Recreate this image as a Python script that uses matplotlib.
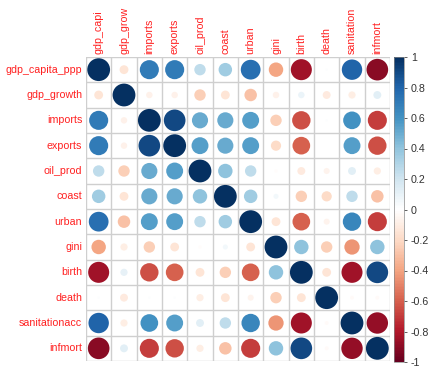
import numpy as np
import matplotlib
matplotlib.use("Agg")
import matplotlib.pyplot as plt
from matplotlib.colors import LinearSegmentedColormap, Normalize
from matplotlib.patches import Circle
from matplotlib.cm import ScalarMappable

plt.rcParams['font.family'] = ['Liberation Sans', 'DejaVu Sans']

labels = ['gdp_capita_ppp', 'gdp_growth', 'imports', 'exports', 'oil_prod', 'coast',
          'urban', 'gini', 'birth', 'death', 'sanitationacc', 'infmort']
# the column labels run off the top of the picture and show cut short
col_labels = ['gdp_capi', 'gdp_grow', 'imports', 'exports', 'oil_prod', 'coast',
              'urban', 'gini', 'birth', 'death', 'sanitation', 'infmort']

# correlation matrix (row by row)
corr = [
    [1.00, -0.15, 0.70, 0.70, 0.25, 0.35, 0.75, -0.40, -0.85, 0.01, 0.80, -0.90],
    [-0.15, 1.00, -0.08, -0.08, -0.25, -0.15, -0.30, -0.08, 0.08, -0.12, -0.10, 0.12],
    [0.70, -0.08, 1.00, 0.90, 0.50, 0.50, 0.55, -0.25, -0.65, 0.01, 0.60, -0.70],
    [0.70, -0.08, 0.90, 1.00, 0.55, 0.50, 0.55, -0.20, -0.60, 0.00, 0.55, -0.65],
    [0.25, -0.25, 0.50, 0.55, 1.00, 0.40, 0.25, -0.02, -0.12, -0.07, 0.12, -0.10],
    [0.35, -0.15, 0.50, 0.50, 0.40, 1.00, 0.35, 0.05, -0.25, -0.20, 0.25, -0.30],
    [0.75, -0.30, 0.55, 0.55, 0.25, 0.35, 1.00, -0.15, -0.60, -0.07, 0.65, -0.70],
    [-0.40, -0.10, -0.25, -0.15, -0.02, 0.05, -0.15, 1.00, 0.40, -0.25, -0.45, 0.40],
    [-0.85, 0.10, -0.65, -0.60, -0.15, -0.25, -0.60, 0.40, 1.00, -0.15, -0.85, 0.90],
    [0.01, -0.12, 0.01, 0.01, -0.10, -0.15, -0.07, -0.25, -0.15, 1.00, -0.03, -0.03],
    [0.80, -0.10, 0.60, 0.55, 0.12, 0.25, 0.65, -0.45, -0.85, -0.03, 1.00, -0.88],
    [-0.90, 0.12, -0.70, -0.65, -0.10, -0.30, -0.70, 0.40, 0.90, -0.03, -0.88, 1.00],
]

cbar_ticks = [-1, -0.8, -0.6, -0.4, -0.2, 0, 0.2, 0.4, 0.6, 0.8, 1]

# RdBu palette as used by corrplot
cmap = LinearSegmentedColormap.from_list('rdbu', [
    "#67001F", "#B2182B", "#D6604D", "#F4A582", "#FDDBC7", "#FFFFFF",
    "#D1E5F0", "#92C5DE", "#4393C3", "#2166AC", "#053061"], N=200)
norm = Normalize(-1, 1)

fig = plt.figure(figsize=(4.42, 3.77), dpi=100)
ax = fig.add_axes([86 / 442, 16 / 377, 304 / 442, 304 / 377])
n = len(labels)

for k in range(n + 1):
    ax.plot([0, n], [k, k], color='#cfcfcf', lw=1, zorder=1)
    ax.plot([k, k], [0, n], color='#cfcfcf', lw=1, zorder=1)

for i in range(n):
    for j in range(n):
        v = corr[i][j]
        ax.add_patch(Circle((j + 0.5, i + 0.5), 0.45 * np.sqrt(abs(v)),
                            facecolor=cmap(norm(v)), edgecolor='none', zorder=2))

for i in range(n):
    ax.text(-0.15, i + 0.5, labels[i], ha='right', va='center', color='#ff2020', fontsize=7.7)
    ax.text(i + 0.5, -0.12, col_labels[i], ha='center', va='bottom', rotation=90,
            color='#ff2020', fontsize=7.7)

ax.set_xlim(0, n)
ax.set_ylim(n, 0)
ax.axis('off')

# colour legend
cax = fig.add_axes([394 / 442, 15 / 377, 10 / 442, 305 / 377])
cb = fig.colorbar(ScalarMappable(norm=norm, cmap=cmap), cax=cax, ticks=cbar_ticks)
cb.ax.set_yticklabels(['%g' % t for t in cbar_ticks])
cb.ax.tick_params(labelsize=7.7, length=2, width=0.6, color='#444444', labelcolor='#333333', pad=3)
cb.outline.set_linewidth(0.5)
cb.outline.set_edgecolor('#888888')

fig.savefig('out.png', dpi=100)
